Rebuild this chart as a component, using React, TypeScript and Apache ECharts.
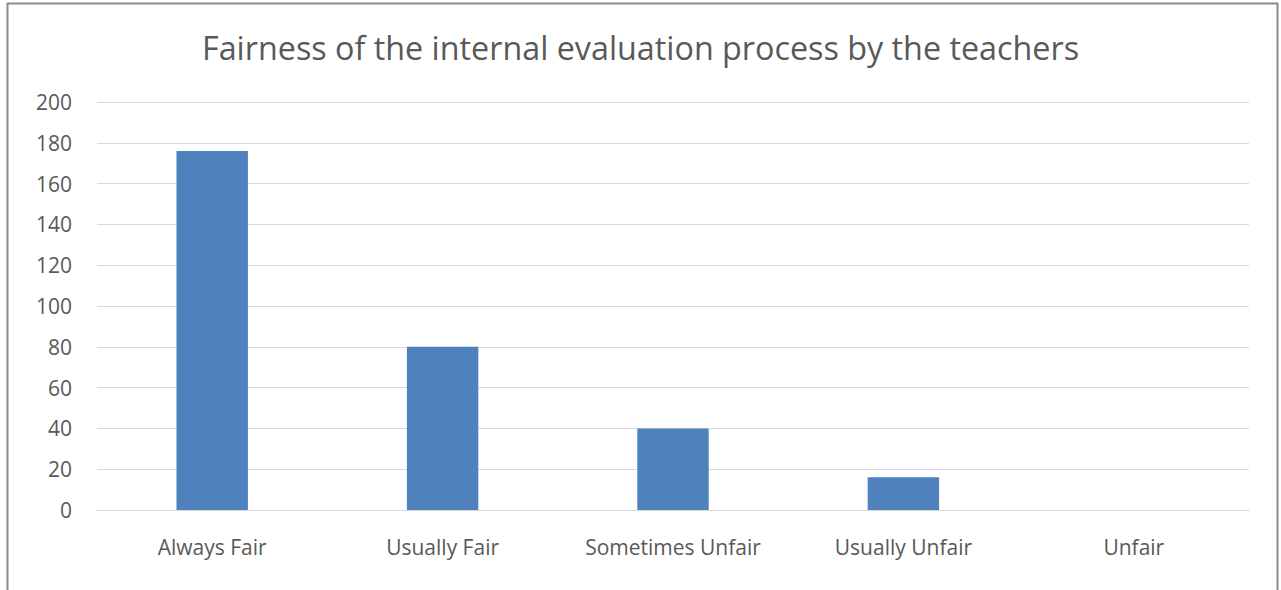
import React, { useEffect, useRef } from "react";
import * as echarts from "echarts";

const categories = ["Always Fair", "Usually Fair", "Sometimes Unfair", "Usually Unfair", "Unfair"];
const values = [176, 80, 40, 16, 0];
const titleText = "Fairness of the internal evaluation process by the teachers";

export default function App() {
  const ref = useRef<HTMLDivElement>(null);
  useEffect(() => {
    document.body.style.margin = "0";
    const chart = echarts.init(ref.current!, undefined, { renderer: "svg" });
    chart.setOption({
      animation: false,
      backgroundColor: "#ffffff",
      title: {
        text: titleText,
        left: "center",
        top: 26,
        textStyle: { fontFamily: "Open Sans", fontSize: 32.3, fontWeight: "normal", color: "#595959" },
      },
      grid: { left: 97, right: 32, top: 102, bottom: 80 },
      xAxis: {
        type: "category",
        data: categories,
        axisLine: { lineStyle: { color: "#d9d9d9", width: 1 } },
        axisTick: { show: false },
        axisLabel: { fontFamily: "Open Sans", fontSize: 21, color: "#595959", margin: 26 },
      },
      yAxis: {
        type: "value",
        min: 0,
        max: 200,
        interval: 20,
        axisLine: { show: false },
        axisTick: { show: false },
        splitLine: { lineStyle: { color: "#d9d9d9", width: 1 } },
        axisLabel: { fontFamily: "Open Sans", fontSize: 21, color: "#595959", margin: 25 },
      },
      series: [
        {
          type: "bar",
          data: values,
          barWidth: "31%",
          itemStyle: { color: "#4f81bd" },
        },
      ],
      graphic: [
        {
          type: "rect",
          shape: { x: 7.5, y: 3.5, width: 1270, height: 620 },
          style: { fill: "none", stroke: "#8c8c8c", lineWidth: 2 },
          silent: true,
        },
      ],
    });
    return () => chart.dispose();
  }, []);
  return <div ref={ref} style={{ width: 1281, height: 590 }} />;
}
